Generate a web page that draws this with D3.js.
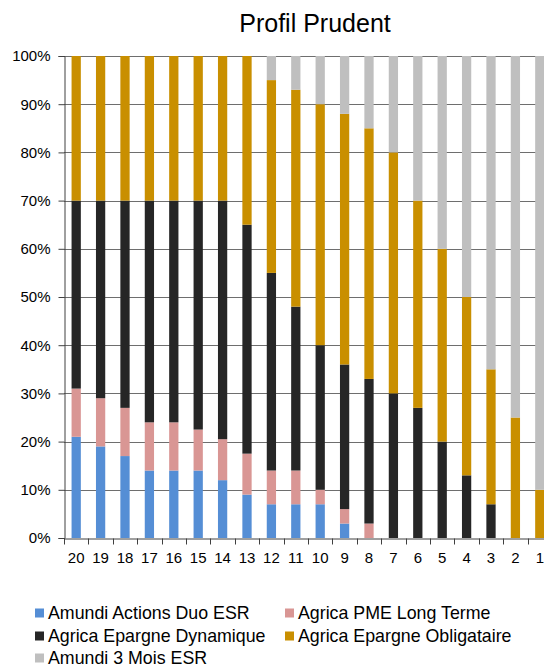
<!DOCTYPE html>
<html>
<head>
<meta charset="utf-8">
<script src="https://cdn.jsdelivr.net/npm/d3@7"></script>
<style>
body{margin:0;background:#fff;}
svg{display:block;font-family:Arial,"Liberation Sans",sans-serif;}
</style>
</head>
<body>
<svg id="chart" width="544" height="669"></svg>
<script>
const categories = ["20","19","18","17","16","15","14","13","12","11","10","9","8","7","6","5","4","3","2","1"];
const seriesNames = ["Amundi Actions Duo ESR","Agrica PME Long Terme","Agrica Epargne Dynamique","Agrica Epargne Obligataire","Amundi 3 Mois ESR"];
const amundiActions = [21,19,17,14,14,14,12,9,7,7,7,3,0,0,0,0,0,0,0,0];
const agricaPME     = [10,10,10,10,10,8.5,8.5,8.5,7,7,3,3,3,0,0,0,0,0,0,0];
const agricaDyn     = [39,41,43,46,46,47.5,49.5,47.5,41,34,30,30,30,30,27,20,13,7,0,0];
const agricaOblig   = [30,30,30,30,30,30,30,35,40,45,50,52,52,50,43,40,37,28,25,10];
const amundi3Mois   = [0,0,0,0,0,0,0,0,5,7,10,12,15,20,30,40,50,65,75,90];
const yTicks = [0,0.1,0.2,0.3,0.4,0.5,0.6,0.7,0.8,0.9,1];
const colors = ["#558ED5","#D99694","#262626","#C98F00","#BFBFBF"];

const seriesValues = [amundiActions, agricaPME, agricaDyn, agricaOblig, amundi3Mois];
const rows = categories.map((c,i)=>{
  const r = {cat:c};
  seriesNames.forEach((s,j)=>{ r[s] = seriesValues[j][i]/100; });
  return r;
});

const svg = d3.select("#chart");
const pLeft = 64, pRight = 552, pTop = 56, pBottom = 538;

const x = d3.scaleBand().domain(categories).range([pLeft,pRight]).paddingInner(0.62).paddingOuter(0.31);
const y = d3.scaleLinear().domain([0,1]).range([pBottom,pTop]);

// title
svg.append("text").attr("x",315).attr("y",32).attr("text-anchor","middle")
  .attr("font-size",25).attr("fill","#000").text("Profil Prudent");

// gridlines
svg.append("g").selectAll("line").data(yTicks.filter(d=>d>0)).join("line")
  .attr("x1",pLeft).attr("x2",pRight)
  .attr("y1",d=>Math.round(y(d))+0.5).attr("y2",d=>Math.round(y(d))+0.5)
  .attr("stroke","#6e6e6e").attr("stroke-width",1);

// bars
const stack = d3.stack().keys(seriesNames)(rows);
svg.append("g").selectAll("g").data(stack).join("g")
  .attr("fill",(d,i)=>colors[i])
  .selectAll("rect").data(d=>d).join("rect")
  .attr("x",d=>x(d.data.cat))
  .attr("width",x.bandwidth())
  .attr("y",d=>y(d[1]))
  .attr("height",d=>Math.max(0,y(d[0])-y(d[1])));

// y axis
const yAxis = d3.axisLeft(y).tickValues(yTicks).tickFormat(d3.format(".0%")).tickSizeOuter(0).tickSize(6).tickPadding(8);
const gy = svg.append("g").attr("transform",`translate(${pLeft+0.5},0)`).call(yAxis);
gy.selectAll("text").attr("font-size",15).attr("fill","#000").attr("font-family","Arial,'Liberation Sans',sans-serif");
gy.selectAll("line").attr("stroke","#404040");
gy.select(".domain").attr("stroke","#404040");

// x axis
const xAxis = d3.axisBottom(x).tickSize(0).tickPadding(14);
const gx = svg.append("g").attr("transform",`translate(0,${pBottom+0.5})`).call(xAxis);
gx.selectAll("text").attr("font-size",15).attr("fill","#000").attr("font-family","Arial,'Liberation Sans',sans-serif");
gx.select(".domain").attr("stroke","#404040");
// category boundary ticks
const bounds = categories.map(c=>x(c) - x.step()*x.paddingInner()/2).concat([pRight]);
gx.append("g").selectAll("line").data(bounds).join("line")
  .attr("x1",d=>Math.round(d)+0.5).attr("x2",d=>Math.round(d)+0.5)
  .attr("y1",0).attr("y2",6).attr("stroke","#404040");

// legend
const legendPos = [[35,613],[285,613],[35,636],[285,636],[35,658]];
const lg = svg.append("g").selectAll("g").data(seriesNames).join("g")
  .attr("transform",(d,i)=>`translate(${legendPos[i][0]},${legendPos[i][1]})`);
lg.append("rect").attr("x",0).attr("y",-4.5).attr("width",9).attr("height",9).attr("fill",(d,i)=>colors[i]);
lg.append("text").attr("x",13).attr("y",0).attr("dy","0.35em").attr("font-size",17.8).attr("fill","#000").text(d=>d);
</script>
</body>
</html>
